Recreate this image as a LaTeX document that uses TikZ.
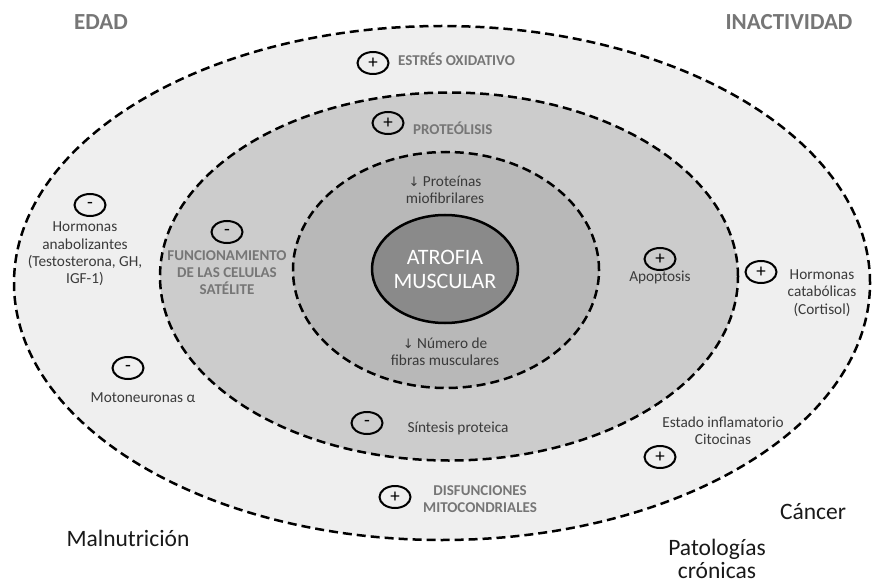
\documentclass[tikz,border=0pt]{standalone}
\usepackage{fontspec}
\setmainfont{Carlito}
\newfontfamily\symfont{DejaVu Sans}
\usetikzlibrary{shapes.geometric}
\definecolor{ringA}{HTML}{EFEFEF}
\definecolor{ringB}{HTML}{CCCCCC}
\definecolor{ringC}{HTML}{B8B8B8}
\definecolor{coreC}{HTML}{8A8A8A}
\definecolor{txtC}{HTML}{3A3A3A}
\definecolor{boldC}{HTML}{767676}
\tikzset{
  ring/.style={draw=black, line width=2.5pt, dash pattern=on 9pt off 5pt},
  sign/.style={draw=black, ellipse, line width=2pt, minimum width=31pt, minimum height=22pt, inner sep=0pt, font=\fontsize{19}{19}\selectfont},
  small/.style={text=txtC, align=center, inner sep=0pt, font=\fontsize{15.3}{17.3}\selectfont},
  boldsmall/.style={text=boldC, align=center, inner sep=0pt, font=\fontsize{15}{17}\selectfont\bfseries},
  big/.style={text=black!90, align=center, inner sep=0pt, font=\fontsize{23.5}{23}\selectfont},
  corner/.style={text=boldC, inner sep=0pt, font=\fontsize{23}{24}\selectfont\bfseries},
}
\begin{document}
\begin{tikzpicture}[x=1pt,y=-1pt]
\useasboundingbox (0,0) rectangle (872,585);
\fill[white] (0,0) rectangle (872,585);
% rings
\path[ring, fill=ringA] (442,283) ellipse [x radius=428pt, y radius=257pt];
\path[ring, fill=ringB] (449,276.5) ellipse [x radius=289pt, y radius=184pt];
\path[ring, fill=ringC] (446,270) ellipse [x radius=153pt, y radius=118pt];
\node[draw=black, line width=2.5pt, fill=coreC, ellipse, minimum width=146pt, minimum height=108pt, inner sep=0pt, text=white, align=center, font=\fontsize{22}{24}\selectfont] (core) at (445,269) {ATROFIA\\MUSCULAR};
% corner labels
\node[corner] (edad) at (101,22) {EDAD};
\node[corner] (inact) at (789,22) {INACTIVIDAD};
\node[big] (maln) at (128,538) {Malnutrición};
\node[big] (canc) at (813,512) {Cáncer};
\node[big] (pato) at (717,559) {Patologías\\crónicas};
% top
\node[sign] (s1) at (373,63) {+};
\node[boldsmall, anchor=west] (estres) at (398,59) {ESTRÉS OXIDATIVO};
\node[sign] (s2) at (388,123) {+};
\node[boldsmall, anchor=west] (proteo) at (413,128) {PROTEÓLISIS};
% inner ring
\node[small] (miof) at (445,190) {{\symfont\fontsize{13}{17}\selectfont ↓} Proteínas\\miofibrilares};
\node[small] (nfib) at (445,352) {{\symfont\fontsize{13}{17}\selectfont ↓} Número de\\fibras musculares};
% middle ring
\node[sign] (s3) at (227,232) {-};
\node[boldsmall] (func) at (227,273) {FUNCIONAMIENTO\\DE LAS CELULAS\\SATÉLITE};
\node[sign] (s4) at (660,259) {+};
\node[small] (apop) at (660,277) {Apoptosis};
\node[sign] (s5) at (367,423) {-};
\node[small] (sint) at (458,428) {Síntesis proteica};
% outer ring
\node[sign] (s6) at (90,205) {-};
\node[small] (hana) at (85,254) {Hormonas\\anabolizantes\\(Testosterona, GH,\\IGF-1)};
\node[sign] (s7) at (128,368) {-};
\node[small] (moto) at (143,398) {Motoneuronas α};
\node[sign] (s8) at (395,497) {+};
\node[boldsmall] (disf) at (480,499) {DISFUNCIONES\\MITOCONDRIALES};
\node[sign] (s9) at (761,272) {+};
\node[small] (hcat) at (822,293) {Hormonas\\catabólicas\\(Cortisol)};
\node[small] (infl) at (723,431) {Estado inflamatorio\\Citocinas};
\node[sign] (s10) at (660,457) {+};
\end{tikzpicture}
\end{document}
